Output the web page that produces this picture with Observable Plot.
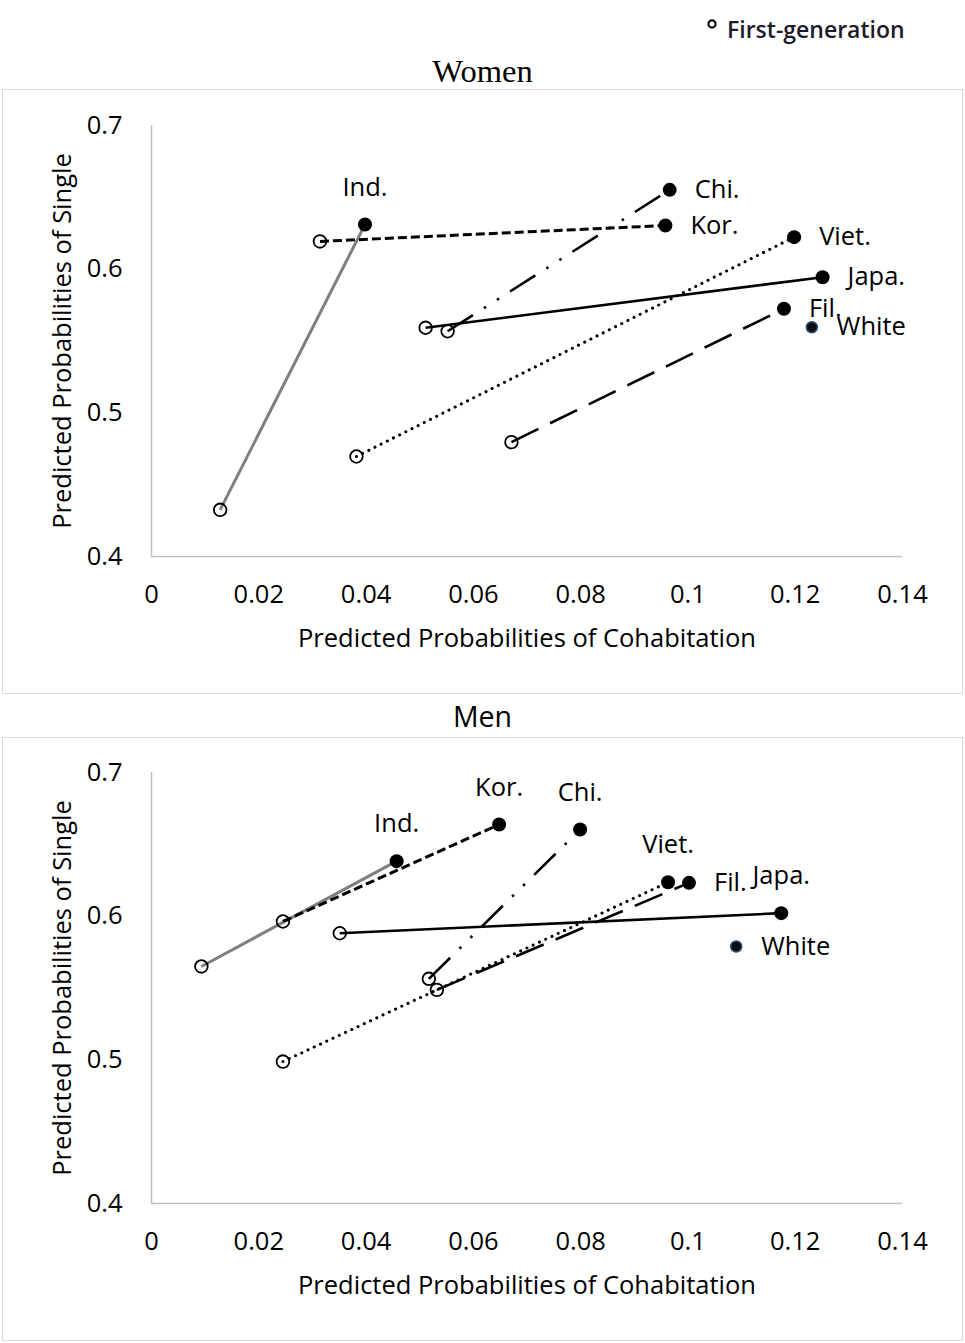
<!DOCTYPE html>
<html><head><meta charset="utf-8">
<script src="https://cdn.jsdelivr.net/npm/d3@7"></script>
<script src="https://cdn.jsdelivr.net/npm/@observablehq/plot@0.6"></script>
<style>
body{margin:0;background:#fff;}
#page{position:relative;width:965px;height:1343px;font-family:"Open Sans",sans-serif;color:#000;overflow:hidden;}
.box{position:absolute;left:2px;width:961px;border:1.5px solid #d9d9d9;box-sizing:border-box;}
.chart{position:absolute;left:0;}
.title{position:absolute;left:0;width:965px;text-align:center;line-height:1;white-space:nowrap;}
</style></head><body>
<div id="page">
  <svg style="position:absolute;left:700px;top:12px" width="24" height="24"><circle cx="12" cy="12" r="3.6" fill="none" stroke="#111" stroke-width="2.2"/></svg>
  <div style="position:absolute;left:727px;top:18px;font-size:23px;font-weight:600;line-height:1;color:#1b1b2b;white-space:nowrap">First-generation</div>
  <div class="title" style="top:55px;font-family:'Liberation Serif',serif;font-size:32.5px">Women</div>
  <div class="box" style="top:89px;height:605px"></div>
  <div id="women" class="chart" style="top:90px"></div>
  <div class="title" style="top:702px;font-size:28.5px">Men</div>
  <div class="box" style="top:737px;height:604px"></div>
  <div id="men" class="chart" style="top:738px"></div>
</div>
<script>
// ---- data ----
const groups = ["Ind.", "Kor.", "Chi.", "Japa.", "Viet.", "Fil."];

const womenFirstCohab   = [0.0128, 0.0314, 0.0552, 0.0511, 0.0382, 0.0671];
const womenFirstSingle  = [0.4325, 0.6193, 0.5568, 0.5592, 0.4696, 0.4796];
const womenSecondCohab  = [0.0398, 0.0958, 0.0966, 0.1251, 0.1198, 0.1179];
const womenSecondSingle = [0.6311, 0.6304, 0.6552, 0.5944, 0.6223, 0.5724];
const womenWhite = [0.1231, 0.5596];

const menFirstCohab   = [0.0093, 0.0245, 0.0517, 0.0351, 0.0245, 0.0532];
const menFirstSingle  = [0.5650, 0.5963, 0.5564, 0.5881, 0.4988, 0.5487];
const menSecondCohab  = [0.0457, 0.0648, 0.0799, 0.1174, 0.0963, 0.1002];
const menSecondSingle = [0.6383, 0.6638, 0.6603, 0.6021, 0.6236, 0.6232];
const menWhite = [0.1090, 0.5789];

const xTicks = [0, 0.02, 0.04, 0.06, 0.08, 0.1, 0.12, 0.14];
const xTickLabels = ["0", "0.02", "0.04", "0.06", "0.08", "0.1", "0.12", "0.14"];
const yTicks = [0.4, 0.5, 0.6, 0.7];
const yTickLabels = ["0.4", "0.5", "0.6", "0.7"];

const xTitle = "Predicted Probabilities of Cohabitation";
const yTitle = "Predicted Probabilities of Single";

// ---- styles ----
const lineStyle = {
  "Ind.":  {stroke: "#7f7f7f", width: 3},
  "Kor.":  {stroke: "#000", width: 3, dash: "9,4"},
  "Chi.":  {stroke: "#000", width: 2.6, dash: "30,13,2.5,13,2.5,13"},
  "Japa.": {stroke: "#000", width: 2.6},
  "Viet.": {stroke: "#000", width: 3, dash: "0.1,6.8", cap: "round"},
  "Fil.":  {stroke: "#000", width: 2.6, dash: "30,13"}
};
const FONT = "Open Sans, sans-serif";
const FS = 25.5;

function panel(fx, fy, sx, sy, white, aboveSet, opts) {
  const rows = groups.map((g, i) => ({g, x1: fx[i], y1: fy[i], x2: sx[i], y2: sy[i]}));
  const labels = rows.map(r => ({text: r.g, x: r.x2, y: r.y2, above: aboveSet.includes(r.g)}));
  labels.push({text: "White", x: white[0], y: white[1], above: false});
  const marks = [
    Plot.ruleX([0], {stroke: "#bfbfbf", strokeWidth: 1.5}),
    Plot.ruleY([0.4], {stroke: "#bfbfbf", strokeWidth: 1.5}),
    Plot.axisX({ticks: xTicks, tickSize: 0, tickPadding: 28, tickFormat: d => xTickLabels[xTicks.indexOf(d)], fontSize: FS, label: null}),
    Plot.axisY({ticks: yTicks, tickSize: 0, tickPadding: 29, tickFormat: d => yTickLabels[yTicks.indexOf(d)], fontSize: FS, label: null}),
    Plot.text([xTitle], {frameAnchor: "bottom", dy: 82, fontSize: FS, lineAnchor: "middle", textAnchor: "middle"}),
    Plot.text([yTitle], {frameAnchor: "left", dx: -89, dy: opts.yTitleDy, rotate: -90, fontSize: FS, textAnchor: "middle", lineAnchor: "middle"})
  ];
  for (const r of rows) {
    const s = lineStyle[r.g];
    marks.push(Plot.link([r], {x1: "x1", y1: "y1", x2: "x2", y2: "y2", stroke: s.stroke, strokeWidth: s.width,
      strokeDasharray: s.dash, strokeLinecap: s.cap || "butt"}));
  }
  marks.push(Plot.dot(rows, {x: "x1", y: "y1", r: 6.3, fill: "none", stroke: "#000", strokeWidth: 1.8}));
  marks.push(Plot.dot(rows, {x: "x2", y: "y2", r: 7, fill: "#000"}));
  marks.push(Plot.dot([white], {x: d => d[0], y: d => d[1], r: 5.5, fill: "#0d0d0d", stroke: "#2f4b7c", strokeWidth: 1.5}));
  marks.push(Plot.text(labels.filter(d => d.above), {x: "x", y: "y", text: "text", dy: -37, fontSize: FS, textAnchor: "middle"}));
  marks.push(Plot.text(labels.filter(d => !d.above), {x: "x", y: "y", text: "text", dx: 25, fontSize: FS, textAnchor: "start"}));
  return Plot.plot({
    width: 965,
    height: opts.height,
    marginLeft: 151,
    marginRight: 63,
    marginTop: opts.marginTop,
    marginBottom: opts.marginBottom,
    style: {background: "transparent", fontFamily: FONT, fontSize: FS + "px", color: "#000", overflow: "visible"},
    x: {domain: [0, 0.14], label: null},
    y: {domain: [0.4, 0.7], label: null},
    marks
  });
}

document.getElementById("women").append(panel(womenFirstCohab, womenFirstSingle, womenSecondCohab, womenSecondSingle,
  womenWhite, ["Ind."], {height: 602, marginTop: 35, marginBottom: 136, yTitleDy: 0}));
document.getElementById("men").append(panel(menFirstCohab, menFirstSingle, menSecondCohab, menSecondSingle,
  menWhite, ["Ind.", "Kor.", "Chi.", "Viet.", "Japa."], {height: 600, marginTop: 34, marginBottom: 135, yTitleDy: 0}));
</script>
</body></html>
